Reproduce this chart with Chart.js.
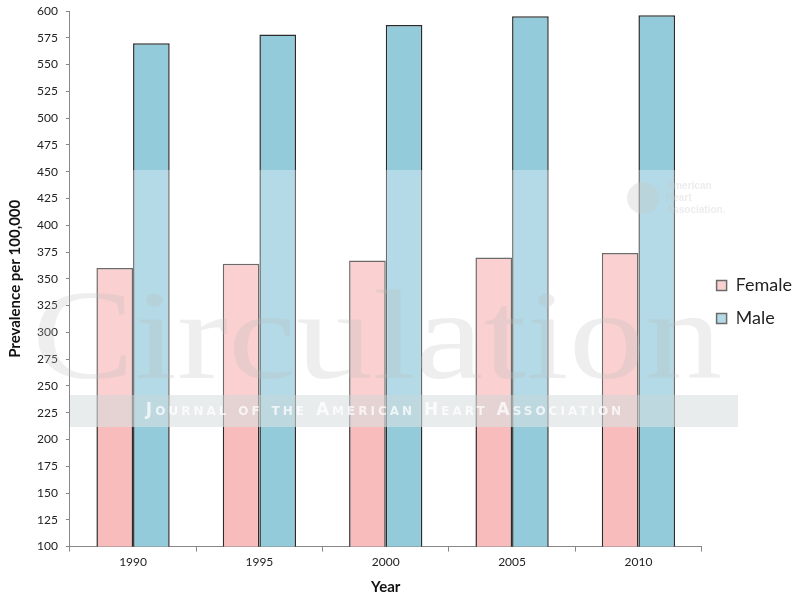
<!DOCTYPE html>
<html>
<head>
<meta charset="utf-8">
<script src="https://cdn.jsdelivr.net/npm/chart.js@4"></script>
<style>
  body { margin: 0; background: #fff; }
</style>
</head>
<body>
<canvas id="prevChart" width="800" height="600"></canvas>
<script>
const years = ['1990', '1995', '2000', '2005', '2010'];
const female = [360, 364, 367, 370, 374];
const male = [570, 578, 587, 595, 596];
const yTicks = { min: 100, max: 600, step: 25 };

// faded "Circulation" watermark laid over the bars, like the scanned figure
const watermark = {
    id: 'watermark',
    afterDatasetsDraw(chart) {
        const c = chart.ctx;
        c.save();
        c.fillStyle = 'rgba(255,255,255,0.3)';
        c.fillRect(70, 170, 668, 257);

        c.font = '128px "Liberation Serif"';
        const w = c.measureText('Circulation').width;
        c.save();
        c.translate(32, 378);
        c.scale(690 / w, 1);
        c.fillStyle = 'rgba(190,190,190,0.26)';
        c.fillText('Circulation', 0, 0);
        c.restore();

        c.fillStyle = 'rgba(205,212,216,0.45)';
        c.fillRect(70, 395, 668, 32);
        c.fillStyle = 'rgba(255,255,255,0.75)';
        c.font = 'small-caps bold 17px "DejaVu Sans"';
        c.letterSpacing = '3px';
        c.textAlign = 'center';
        c.textBaseline = 'middle';
        c.fillText('Journal of the American Heart Association', 385, 411);
        c.letterSpacing = '0px';

        c.fillStyle = 'rgba(200,200,200,0.35)';
        c.beginPath();
        c.arc(643, 198, 16, 0, Math.PI * 2);
        c.fill();
        c.textAlign = 'left';
        c.font = 'bold 10px "Liberation Sans"';
        c.fillText('American', 666, 186);
        c.fillText('Heart', 666, 198);
        c.fillText('Association.', 666, 210);
        c.restore();
    }
};

const ctx = document.getElementById('prevChart').getContext('2d');
new Chart(ctx, {
    type: 'bar',
    data: {
        labels: years,
        datasets: [{
            label: 'Female',
            data: female,
            backgroundColor: '#f8bcbc',
            borderColor: '#2b2b2b',
            borderWidth: 1.5,
            borderSkipped: false
        }, {
            label: 'Male',
            data: male,
            backgroundColor: '#93cbdb',
            borderColor: '#2b2b2b',
            borderWidth: 1.5,
            borderSkipped: false
        }]
    },
    options: {
        responsive: false,
        animation: false,
        devicePixelRatio: 1,
        layout: { padding: { top: 4, left: 2, right: -2, bottom: 0 } },
        datasets: { bar: { barPercentage: 1, categoryPercentage: 0.58 } },
        plugins: {
            legend: {
                position: 'right',
                labels: {
                    font: { family: 'Lato', size: 18 },
                    color: '#222',
                    boxWidth: 10,
                    boxHeight: 10,
                    padding: 15
                }
            },
            tooltip: { enabled: false }
        },
        scales: {
            x: {
                grid: { display: true, drawOnChartArea: false, color: '#888', tickLength: 5, offset: true },
                border: { color: '#888' },
                ticks: { font: { family: 'Lato', size: 12 }, color: '#222', maxRotation: 0 },
                title: { display: true, text: 'Year', padding: { top: 6, bottom: 4 }, font: { family: 'Lato', size: 15, weight: 'bold' }, color: '#111' }
            },
            y: {
                min: yTicks.min,
                max: yTicks.max,
                grid: { display: true, drawOnChartArea: false, color: '#888', tickLength: 4 },
                border: { color: '#888' },
                ticks: { stepSize: yTicks.step, autoSkip: false, padding: 8, font: { family: 'Lato', size: 12 }, color: '#222' },
                title: { display: true, text: 'Prevalence per 100,000', padding: { top: 4, bottom: 5 }, font: { family: 'Lato', size: 15, weight: 'bold' }, color: '#111' },
                afterFit: function (scale) {
                    scale.paddingTop = 11;
                    scale.paddingBottom = 7;
                }
            }
        }
    },
    plugins: [watermark]
});
</script>
</body>
</html>
